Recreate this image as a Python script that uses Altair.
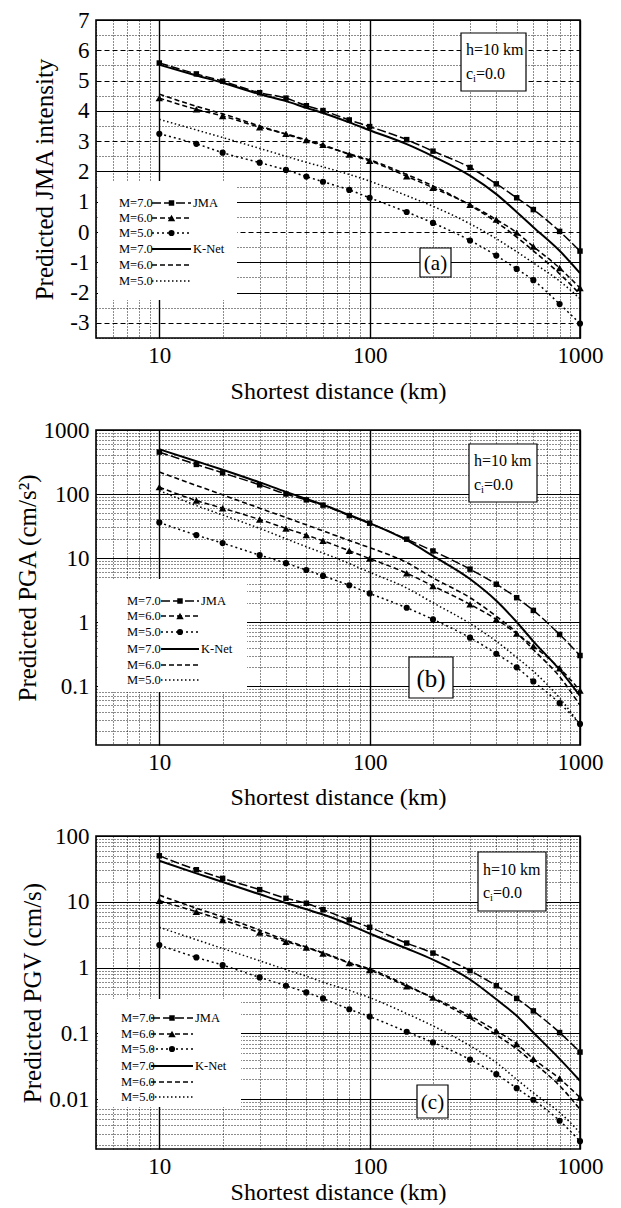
import altair as alt
import pandas as pd

# ---------------- data ----------------
dist = [10, 15, 20, 30, 40, 50, 60, 80, 100, 150, 200, 300, 400, 500, 600, 800, 1000]

# (a) predicted JMA intensity
a_jma_m7 = [5.58, 5.22, 4.98, 4.60, 4.42, 4.17, 4.01, 3.70, 3.48, 3.05, 2.67, 2.13, 1.59, 1.13, 0.74, 0.02, -0.63]
a_jma_m6 = [4.42, 4.05, 3.83, 3.46, 3.24, 3.04, 2.88, 2.56, 2.35, 1.84, 1.46, 0.90, 0.41, -0.02, -0.48, -1.19, -1.85]
a_jma_m5 = [3.24, 2.91, 2.62, 2.29, 2.05, 1.83, 1.66, 1.39, 1.13, 0.66, 0.30, -0.28, -0.78, -1.22, -1.59, -2.38, -3.02]
a_kn_m7 = [5.52, 5.17, 4.93, 4.55, 4.32, 4.10, 3.93, 3.62, 3.36, 2.90, 2.50, 1.86, 1.25, 0.66, 0.16, -0.62, -1.36]
a_kn_m6 = [4.55, 4.15, 3.90, 3.50, 3.23, 3.02, 2.85, 2.58, 2.38, 1.90, 1.52, 0.88, 0.33, -0.17, -0.62, -1.38, -2.05]
a_kn_m5 = [3.72, 3.37, 3.12, 2.76, 2.50, 2.30, 2.15, 1.90, 1.68, 1.20, 0.85, 0.27, -0.22, -0.65, -1.02, -1.62, -2.20]

# (b) predicted PGA (cm/s^2)
b_jma_m7 = [452, 290, 214, 139, 100, 81, 67, 46, 35, 19.7, 12.9, 6.7, 3.9, 2.4, 1.52, 0.64, 0.30]
b_jma_m6 = [128, 79, 60, 40, 29, 22.8, 18.6, 13.0, 9.8, 5.8, 3.66, 1.89, 1.10, 0.66, 0.42, 0.19, 0.085]
b_jma_m5 = [36, 22.8, 17.1, 11.1, 8.3, 6.5, 5.25, 3.75, 2.8, 1.67, 1.10, 0.57, 0.32, 0.196, 0.118, 0.054, 0.0256]
b_kn_m7 = [500, 325, 240, 152, 108, 84, 68, 47, 35, 19.0, 10.8, 4.7, 2.15, 1.00, 0.50, 0.18, 0.07]
b_kn_m6 = [220, 136, 97, 60, 43, 33, 26.5, 18.8, 14.5, 8.5, 4.9, 2.4, 1.23, 0.68, 0.37, 0.14, 0.05]
b_kn_m5 = [113, 66, 47, 29, 20, 15, 12, 8.2, 6.0, 3.4, 2.0, 0.95, 0.50, 0.28, 0.17, 0.065, 0.025]

# (c) predicted PGV (cm/s)
c_jma_m7 = [50, 30.7, 22.7, 15.3, 11.3, 9.5, 7.6, 5.3, 4.1, 2.36, 1.66, 0.90, 0.53, 0.34, 0.22, 0.103, 0.052]
c_jma_m6 = [10.4, 7.06, 5.3, 3.4, 2.47, 2.02, 1.64, 1.17, 0.92, 0.52, 0.35, 0.185, 0.109, 0.069, 0.041, 0.0206, 0.0106]
c_jma_m5 = [2.2, 1.43, 1.09, 0.71, 0.53, 0.42, 0.34, 0.233, 0.18, 0.106, 0.073, 0.040, 0.024, 0.0147, 0.0098, 0.0047, 0.0023]
c_kn_m7 = [42, 27, 20, 13, 9.6, 7.7, 6.4, 4.5, 3.3, 1.95, 1.32, 0.66, 0.33, 0.185, 0.103, 0.041, 0.019]
c_kn_m6 = [12.6, 8.0, 5.9, 3.7, 2.6, 2.05, 1.68, 1.2, 0.95, 0.54, 0.34, 0.17, 0.095, 0.058, 0.036, 0.016, 0.007]
c_kn_m5 = [4.1, 2.65, 1.95, 1.27, 0.93, 0.74, 0.60, 0.45, 0.35, 0.20, 0.13, 0.065, 0.036, 0.020, 0.0125, 0.0063, 0.0031]

x_ticks = [5, 6, 7, 8, 9, 10, 20, 30, 40, 50, 60, 70, 80, 90, 100,
           200, 300, 400, 500, 600, 700, 800, 900, 1000]
a_ticks = [-3.5, -3, -2.5, -2, -1.5, -1, -0.5, 0, 0.5, 1, 1.5, 2, 2.5, 3, 3.5,
           4, 4.5, 5, 5.5, 6, 6.5, 7]
b_ticks = [0.02, 0.03, 0.04, 0.05, 0.06, 0.07, 0.08, 0.09, 0.1, 0.2, 0.3, 0.4, 0.5,
           0.6, 0.7, 0.8, 0.9, 1, 2, 3, 4, 5, 6, 7, 8, 9, 10, 20, 30, 40, 50, 60,
           70, 80, 90, 100, 200, 300, 400, 500, 600, 700, 800, 900, 1000]
c_ticks = [0.002, 0.003, 0.004, 0.005, 0.006, 0.007, 0.008, 0.009, 0.01, 0.02, 0.03,
           0.04, 0.05, 0.06, 0.07, 0.08, 0.09, 0.1, 0.2, 0.3, 0.4, 0.5, 0.6, 0.7,
           0.8, 0.9, 1, 2, 3, 4, 5, 6, 7, 8, 9, 10, 20, 30, 40, 50, 60, 70, 80, 90, 100]

series_names = ["JMA M7", "JMA M6", "JMA M5", "KN M7", "KN M6", "KN M5"]
legend_labels = ["M=7.0", "M=6.0", "M=5.0", "M=7.0", "M=6.0", "M=5.0"]
legend_suffix = ["JMA", "", "", "K-Net", "", ""]

FONT = "Liberation Serif, Times New Roman, serif"

STYLE = {
    "JMA M7": dict(dash=[9, 3], width=1.5, shape="square", size=30),
    "JMA M6": dict(dash=[5, 3], width=1.5, shape="triangle-up", size=55),
    "JMA M5": dict(dash=[2, 3], width=1.5, shape="circle", size=38),
    "KN M7": dict(dash=[], width=2.0, shape=None, size=0),
    "KN M6": dict(dash=[5, 3], width=1.6, shape=None, size=0),
    "KN M5": dict(dash=[1.5, 2.5], width=1.5, shape=None, size=0),
}

LOG_MAJOR = "abs(log(datum.value)/LN10 - round(log(datum.value)/LN10)) < 0.001"

dummy = pd.DataFrame({"k": [0]})


def make_df(vals):
    rows = []
    for name, ys in zip(series_names, vals):
        for d, v in zip(dist, ys):
            rows.append({"series": name, "dist": d, "val": v})
    return pd.DataFrame(rows)


def x_axis(title_pad):
    return alt.Axis(
        values=x_ticks, title="Shortest distance (km)",
        labelExpr=f"({LOG_MAJOR}) ? '' + datum.value : ''",
        gridDash={"condition": {"test": LOG_MAJOR, "value": []}, "value": [1, 2]},
        gridColor="black",
        gridWidth={"condition": {"test": LOG_MAJOR, "value": 1.4}, "value": 1},
        gridOpacity={"condition": {"test": LOG_MAJOR, "value": 1}, "value": 0.9},
        ticks=False, domain=False, labelOverlap=False, labelFlush=False, labelPadding=6,
        labelFont=FONT, labelFontSize=23, labelColor="black",
        titleFont=FONT, titleFontSize=24, titleFontWeight="normal",
        titleColor="black", titlePadding=title_pad)


def y_axis(vals, title, major, title_pad, dash_test=None):
    if dash_test is None:
        gdash = {"condition": {"test": major, "value": []}, "value": [1, 2]}
    else:
        gdash = {"condition": [{"test": f"!({major})", "value": [1, 2]},
                               {"test": dash_test, "value": [5, 3]}],
                 "value": []}
    return alt.Axis(
        values=vals, title=title,
        labelExpr=f"({major}) ? '' + datum.value : ''",
        gridDash=gdash, gridColor="black",
        gridWidth={"condition": {"test": major, "value": 1.2}, "value": 1},
        gridOpacity={"condition": {"test": major, "value": 1}, "value": 0.9},
        ticks=False, domain=False, labelOverlap=False, labelFlush=False, labelPadding=7,
        labelFont=FONT, labelFontSize=23, labelColor="black",
        titleFont=FONT, titleFontSize=25, titleFontWeight="normal",
        titleColor="black", titlePadding=title_pad)


def panel(vals, ydomain, ytype, yaxis, xpad, width, height, leg, hbox, tagbox, tag, tagsize):
    df = make_df(vals)
    xenc = alt.X("dist:Q", scale=alt.Scale(type="log", domain=[5, 1000]), axis=x_axis(xpad))
    yenc = alt.Y("val:Q", scale=alt.Scale(type=ytype, domain=ydomain), axis=yaxis)
    layers = []
    # white legend background (hides the grid like the original)
    bx0, by0, bx1, by1 = leg["box"]
    layers.append(alt.Chart(dummy).mark_rect(fill="white").encode(
        x=alt.value(bx0), x2=alt.value(bx1), y=alt.value(by0), y2=alt.value(by1)))
    # curves
    for name in series_names:
        st = STYLE[name]
        base = alt.Chart(df).transform_filter(alt.datum.series == name)
        layers.append(base.mark_line(color="black", strokeWidth=st["width"],
                                     strokeDash=st["dash"], interpolate="monotone",
                                     clip=True).encode(x=xenc, y=yenc))
        if st["shape"]:
            layers.append(base.mark_point(shape=st["shape"], size=st["size"], filled=True,
                                          color="black", opacity=1).encode(
                x=xenc, y=yenc))
    # legend rows
    tx, l0, l1 = leg["x"]
    for i, name in enumerate(series_names):
        st = STYLE[name]
        yy = leg["rows"][i]
        layers.append(alt.Chart(dummy).mark_text(
            font=FONT, fontSize=12.5, align="left", baseline="middle", color="black").encode(
            x=alt.value(tx), y=alt.value(yy), text=alt.value(legend_labels[i])))
        layers.append(alt.Chart(dummy).mark_rule(
            color="black", strokeWidth=st["width"], strokeDash=st["dash"]).encode(
            x=alt.value(l0), x2=alt.value(l1), y=alt.value(yy)))
        if st["shape"]:
            layers.append(alt.Chart(dummy).mark_point(
                shape=st["shape"], size=st["size"], filled=True, color="black", opacity=1).encode(
                x=alt.value((l0 + l1) / 2), y=alt.value(yy)))
        if legend_suffix[i]:
            layers.append(alt.Chart(dummy).mark_text(
                font=FONT, fontSize=12.5, align="left", baseline="middle", color="black").encode(
                x=alt.value(l1 + 2), y=alt.value(yy), text=alt.value(legend_suffix[i])))
    # h / c_i box
    hx0, hy0, hx1, hy1 = hbox
    layers.append(alt.Chart(dummy).mark_rect(fill="white", stroke="black", strokeWidth=1.2).encode(
        x=alt.value(hx0), x2=alt.value(hx1), y=alt.value(hy0), y2=alt.value(hy1)))
    hcx = hx0 + 5
    r1 = hy0 + (hy1 - hy0) * 0.3
    r2 = hy0 + (hy1 - hy0) * 0.7
    layers.append(alt.Chart(dummy).mark_text(font=FONT, fontSize=16, align="left", baseline="middle",
                                             color="black").encode(
        x=alt.value(hcx), y=alt.value(r1), text=alt.value("h=10 km")))
    layers.append(alt.Chart(dummy).mark_text(font=FONT, fontSize=16, align="left", baseline="middle",
                                             color="black").encode(
        x=alt.value(hcx), y=alt.value(r2), text=alt.value("c")))
    layers.append(alt.Chart(dummy).mark_text(font=FONT, fontSize=10.5, align="left", baseline="middle",
                                             color="black").encode(
        x=alt.value(hcx + 7), y=alt.value(r2 + 5), text=alt.value("i")))
    layers.append(alt.Chart(dummy).mark_text(font=FONT, fontSize=16, align="left", baseline="middle",
                                             color="black").encode(
        x=alt.value(hcx + 10), y=alt.value(r2), text=alt.value("=0.0")))
    # panel tag box
    gx0, gy0, gx1, gy1 = tagbox
    layers.append(alt.Chart(dummy).mark_rect(fill="white", stroke="black", strokeWidth=1.2).encode(
        x=alt.value(gx0), x2=alt.value(gx1), y=alt.value(gy0), y2=alt.value(gy1)))
    layers.append(alt.Chart(dummy).mark_text(font=FONT, fontSize=tagsize, align="center",
                                             baseline="middle", color="black").encode(
        x=alt.value((gx0 + gx1) / 2), y=alt.value((gy0 + gy1) / 2 + 1), text=alt.value(tag)))
    return alt.layer(*layers).properties(width=width, height=height)


pa = panel([a_jma_m7, a_jma_m6, a_jma_m5, a_kn_m7, a_kn_m6, a_kn_m5], [-3.5, 7], "linear",
           y_axis(a_ticks, "Predicted JMA intensity", "datum.value % 1 == 0", 12,
                  dash_test="indexof([6, 5, 3, 0, -3], datum.value) >= 0"),
           12, 484, 318,
           dict(box=(2, 161, 141, 280), rows=[183, 198, 213, 229, 245, 261], x=(23, 56, 95)),
           (365, 13, 430, 71), (324, 228, 355, 257), "(a)", 21)

pb = panel([b_jma_m7, b_jma_m6, b_jma_m5, b_kn_m7, b_kn_m6, b_kn_m5], [0.012, 1000], "log",
           y_axis(b_ticks, "Predicted PGA (cm/s²)", LOG_MAJOR, 3),
           11, 484, 315,
           dict(box=(2, 149, 151, 262), rows=[171, 186, 202, 219, 235, 250], x=(31, 65, 103)),
           (373, 14, 441, 72), (313, 227, 357, 268), "(b)", 25)

pc = panel([c_jma_m7, c_jma_m6, c_jma_m5, c_kn_m7, c_kn_m6, c_kn_m5], [0.00175, 100], "log",
           y_axis(c_ticks, "Predicted PGV (cm/s)", LOG_MAJOR, 3),
           2, 484, 313,
           dict(box=(2, 163, 145, 271), rows=[182, 198, 213, 230, 246, 261], x=(25, 55, 97)),
           (382, 16, 450, 75), (321, 249, 352, 282), "(c)", 21)

chart = alt.vconcat(pa, pb, pc, spacing=14).properties(
    padding={"left": 6, "top": 0, "right": 5, "bottom": 2},
    background="white"
).configure_view(stroke="black", strokeWidth=1.6)

chart.save("out.html", embed_options={"renderer": "svg", "actions": False})
